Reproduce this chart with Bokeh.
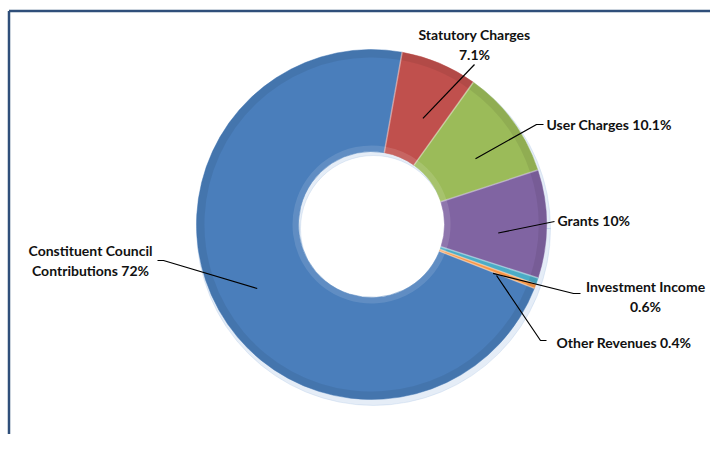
from bokeh.plotting import figure
from bokeh.models import Range1d
from bokeh.embed import file_html
from bokeh.resources import INLINE
from bokeh.core.properties import value
import numpy as np

# ---- data ----
categories = ["Constituent Council Contributions", "Statutory Charges", "User Charges",
              "Grants", "Investment Income", "Other Revenues"]
shares = [72.0, 7.1, 10.1, 10.0, 0.6, 0.4]
pct_labels = ["72%", "7.1%", "10.1%", "10%", "0.6%", "0.4%"]
label_lines = [["Constituent Council", "Contributions 72%"],
               ["Statutory Charges", "7.1%"],
               ["User Charges 10.1%"],
               ["Grants 10%"],
               ["Investment Income", "0.6%"],
               ["Other Revenues 0.4%"]]
colors = ["#4A7EBB", "#C0504D", "#9BBB59", "#8064A2", "#4BACC6", "#F79646"]

# ---- layout (screen pixels, origin top-left of the figure) ----
W, H = 710, 434
def dx(sx): return sx
def dy(sy): return H - sy

CX, CY = dx(371), dy(224)
R_OUT, R_IN = 175, 73
FIRST_CW = 111.4  # first slice angle, degrees clockwise from 12 o'clock

label_pos = [(90, 250, "center"), (474, 34, "center"), (546, 124, "left"),
             (557, 220, "left"), (645, 286, "center"), (556, 342, "left")]
leader_start = [[(157, 260), (163, 260)], [(474, 64)], [(543, 124), (536, 124)],
                [(554, 221)], [(580, 293), (573, 293)], [(546, 340), (540, 340)]]
anchor_r = [131, 118, 123, 127, 131, 135]
anchor_shift = [0, 3, 4, 4, 3, 1.5]

p = figure(width=W, height=H, x_range=Range1d(0, W), y_range=Range1d(0, H),
           output_backend="svg", toolbar_location=None, min_border=0,
           x_axis_location=None, y_axis_location=None)
p.grid.visible = False
p.outline_line_color = None
p.background_fill_color = "white"
p.border_fill_color = "white"

# frame (top and left edges of the cropped chart area)
p.segment(x0=[dx(8.5), dx(8.5)], y0=[dy(10.5), dy(10.5)], x1=[dx(726), dx(8.5)], y1=[dy(10.5), dy(450)],
          line_color="#2F4F7A", line_width=2.5)

frac = np.array(shares) / np.sum(shares)
cw_start = FIRST_CW + 360 * np.concatenate([[0], np.cumsum(frac)[:-1]])
cw_end = cw_start + 360 * frac
cw_mid = (cw_start + cw_end) / 2
sa = np.radians(90 - cw_start)
ea = np.radians(90 - cw_end)

# soft shadow
p.annular_wedge(x=CX + 2, y=CY - 4, inner_radius=R_IN, outer_radius=R_OUT + 2,
                start_angle=0, end_angle=2 * np.pi, color="#A9C3E3", alpha=0.3)

p.annular_wedge(x=CX, y=CY, inner_radius=R_IN, outer_radius=R_OUT,
                start_angle=sa, end_angle=ea, direction="clock",
                fill_color=colors, line_color=colors, line_width=0.5)
# bevel: lighter inner rim and darker outer rim
p.annular_wedge(x=CX, y=CY, inner_radius=R_IN, outer_radius=R_IN + 6,
                start_angle=sa, end_angle=ea, direction="clock",
                fill_color="white", fill_alpha=0.12, line_color=None)
p.annular_wedge(x=CX, y=CY, inner_radius=R_OUT - 8, outer_radius=R_OUT,
                start_angle=sa, end_angle=ea, direction="clock",
                fill_color="black", fill_alpha=0.07, line_color=None)
# slice separators
p.segment(x0=CX + R_IN * np.cos(sa), y0=CY + R_IN * np.sin(sa),
          x1=CX + R_OUT * np.cos(sa), y1=CY + R_OUT * np.sin(sa),
          line_color="white", line_alpha=0.4, line_width=1.5)

# leader lines
xs, ys = [], []
for i in range(len(shares)):
    ang = np.radians(cw_mid[i] + anchor_shift[i])
    ax = CX + anchor_r[i] * np.sin(ang)
    ay = CY + anchor_r[i] * np.cos(ang)
    pts = leader_start[i]
    xs.append([dx(q[0]) for q in pts] + [ax])
    ys.append([dy(q[1]) for q in pts] + [ay])
p.multi_line(xs=xs, ys=ys, line_color="black", line_width=1.2)

# labels
for i, lines in enumerate(label_lines):
    lx, ly, al = label_pos[i]
    for k, t in enumerate(lines):
        p.text(x=[dx(lx)], y=[dy(ly + 19.5 * k)], text=[t], text_align=al,
               text_baseline="middle", text_font=value("Lato"), text_font_style="bold",
               text_font_size="14px", text_color="#111111")

open("out.html", "w").write(file_html(p, INLINE))
